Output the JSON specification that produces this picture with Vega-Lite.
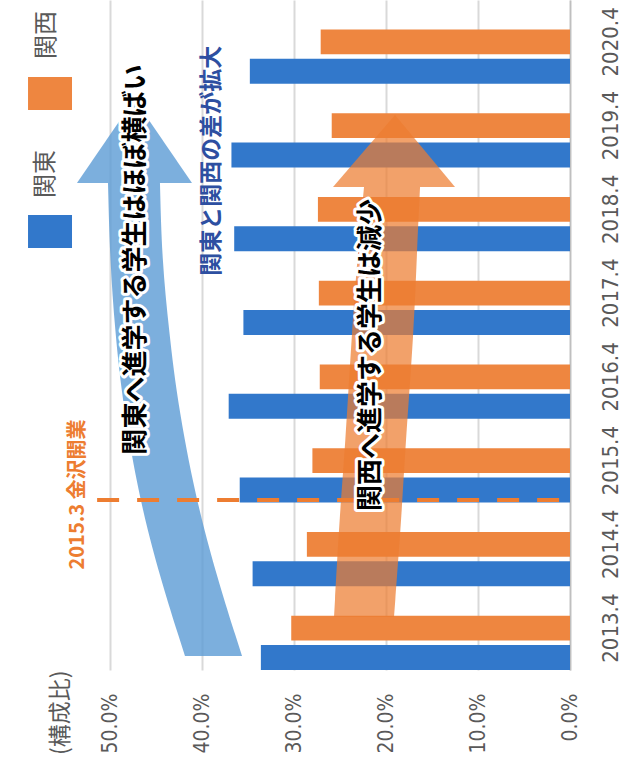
{
  "$schema": "https://vega.github.io/schema/vega-lite/v6.json",
  "width": 460,
  "height": 670,
  "autosize": {"type": "none"},
  "padding": {"left": 110, "top": 0, "right": 54, "bottom": 95},
  "background": "white",
  "config": {
    "view": {"stroke": null},
    "axisX": {
      "grid": true, "gridColor": "#D9D9D9", "gridWidth": 2, "domain": false, "ticks": false,
      "labelAngle": -90, "labelAlign": "right", "labelBaseline": "middle",
      "labelFont": "Liberation Sans Narrow, DejaVu Sans Condensed, sans-serif",
      "labelFontSize": 21, "labelColor": "#595959", "labelPadding": 23
    },
    "axisY": {
      "grid": false, "ticks": false, "domainColor": "#BFBFBF", "domainWidth": 1.5,
      "labelAngle": -90, "labelAlign": "center", "labelBaseline": "top",
      "labelFont": "Liberation Sans Narrow, DejaVu Sans Condensed, sans-serif",
      "labelFontSize": 22, "labelColor": "#595959", "labelPadding": 30
    }
  },
  "datasets": {
    "bars": [
      {"年度": "2013.4", "地域": "関東", "値": 0.336}, {"年度": "2013.4", "地域": "関西", "値": 0.303},
      {"年度": "2014.4", "地域": "関東", "値": 0.345}, {"年度": "2014.4", "地域": "関西", "値": 0.286},
      {"年度": "2015.4", "地域": "関東", "値": 0.359}, {"年度": "2015.4", "地域": "関西", "値": 0.280},
      {"年度": "2016.4", "地域": "関東", "値": 0.371}, {"年度": "2016.4", "地域": "関西", "値": 0.272},
      {"年度": "2017.4", "地域": "関東", "値": 0.355}, {"年度": "2017.4", "地域": "関西", "値": 0.273},
      {"年度": "2018.4", "地域": "関東", "値": 0.365}, {"年度": "2018.4", "地域": "関西", "値": 0.274},
      {"年度": "2019.4", "地域": "関東", "値": 0.368}, {"年度": "2019.4", "地域": "関西", "値": 0.259},
      {"年度": "2020.4", "地域": "関東", "値": 0.348}, {"年度": "2020.4", "地域": "関西", "値": 0.271}
    ],
    "blueShaft": [
      {"pos": 2013.067, "x": 0.4185, "x2": 0.3565},
      {"pos": 2014.572, "x": 0.4620, "x2": 0.4000},
      {"pos": 2016.040, "x": 0.4859, "x2": 0.4261},
      {"pos": 2016.960, "x": 0.4946, "x2": 0.4359},
      {"pos": 2017.796, "x": 0.5000, "x2": 0.4435},
      {"pos": 2018.715, "x": 0.5022, "x2": 0.4457}
    ],
    "blueHead": [
      {"pos": 2018.715, "x": 0.5359, "x2": 0.4109},
      {"pos": 2019.718, "x": 0.4734, "x2": 0.4734}
    ],
    "orangeShaft": [
      {"pos": 2013.533, "x": 0.2565, "x2": 0.1913},
      {"pos": 2014.810, "x": 0.2500, "x2": 0.1826},
      {"pos": 2015.527, "x": 0.2446, "x2": 0.1793},
      {"pos": 2016.960, "x": 0.2370, "x2": 0.1696},
      {"pos": 2017.915, "x": 0.2304, "x2": 0.1663},
      {"pos": 2018.667, "x": 0.2239, "x2": 0.1630}
    ],
    "orangeHead": [
      {"pos": 2018.667, "x": 0.2576, "x2": 0.1250},
      {"pos": 2019.527, "x": 0.1902, "x2": 0.1902}
    ],
    "blackNotes": [
      {"label": "関東へ進学する学生はほぼ横ばい", "x": 0.4717, "pos": 2017.80},
      {"label": "関西へ進学する学生は減少", "x": 0.2163, "pos": 2016.66}
    ],
    "blueNote": [{"label": "関東と関西の差が拡大", "x": 0.389, "pos": 2018.98}],
    "orangeNote": [{"label": "2015.3 金沢開業", "x": 0.535, "pos": 2014.996}],
    "openLine": [{"x": 0.514, "x2": 0, "pos": 2014.93}],
    "legendRects": [
      {"地域": "関東", "x": 0.5891, "x2": 0.5413, "pos": 2017.939, "pos2": 2018.333},
      {"地域": "関西", "x": 0.5891, "x2": 0.5413, "pos": 2019.587, "pos2": 2019.981}
    ],
    "legendTexts": [
      {"label": "関東", "x": 0.5696, "pos": 2018.822},
      {"label": "関西", "x": 0.5685, "pos": 2020.482}
    ],
    "unitTitle": [{"label": "(構成比)", "x": 0.5533, "pos": 2011.885}]
  },
  "layer": [
    {
      "data": {"name": "bars"},
      "mark": {"type": "bar"},
      "encoding": {
        "y": {"field": "年度", "type": "ordinal", "sort": "descending", "title": null,
              "scale": {"paddingInner": 0, "paddingOuter": 0}, "axis": {"orient": "right"}},
        "yOffset": {"field": "地域", "type": "nominal",
                    "scale": {"domain": ["", "関西", "関東"], "paddingInner": 0.15, "paddingOuter": 0}},
        "x": {"field": "値", "type": "quantitative", "title": null,
              "scale": {"domain": [0, 0.5], "reverse": true, "nice": false},
              "axis": {"values": [0, 0.1, 0.2, 0.3, 0.4, 0.5], "format": ".1%"}},
        "color": {"field": "地域", "type": "nominal",
                  "scale": {"domain": ["関東", "関西"], "range": ["#3278CB", "#EE8640"]}, "legend": null}
      }
    },
    {
      "layer": [
        {
          "data": {"name": "blueShaft"},
          "mark": {"type": "area", "orient": "horizontal", "interpolate": "basis", "color": "#5B9BD5", "opacity": 0.8},
          "encoding": {
            "y": {"field": "pos", "type": "quantitative", "scale": {"domain": [2012.9, 2020.9], "nice": false, "zero": false}, "axis": null},
            "x": {"field": "x", "type": "quantitative", "title": null, "scale": {"domain": [0, 0.5], "reverse": true, "nice": false}, "axis": {"values": [0, 0.1, 0.2, 0.3, 0.4, 0.5], "format": ".1%"}},
            "x2": {"field": "x2"}
          }
        },
        {
          "data": {"name": "blueHead"},
          "mark": {"type": "area", "orient": "horizontal", "color": "#5B9BD5", "opacity": 0.8},
          "encoding": {
            "y": {"field": "pos", "type": "quantitative", "scale": {"domain": [2012.9, 2020.9], "nice": false, "zero": false}, "axis": null},
            "x": {"field": "x", "type": "quantitative", "title": null, "scale": {"domain": [0, 0.5], "reverse": true, "nice": false}, "axis": {"values": [0, 0.1, 0.2, 0.3, 0.4, 0.5], "format": ".1%"}},
            "x2": {"field": "x2"}
          }
        },
        {
          "data": {"name": "orangeShaft"},
          "mark": {"type": "area", "orient": "horizontal", "interpolate": "basis", "color": "#ED7D31", "opacity": 0.72},
          "encoding": {
            "y": {"field": "pos", "type": "quantitative", "scale": {"domain": [2012.9, 2020.9], "nice": false, "zero": false}, "axis": null},
            "x": {"field": "x", "type": "quantitative", "title": null, "scale": {"domain": [0, 0.5], "reverse": true, "nice": false}, "axis": {"values": [0, 0.1, 0.2, 0.3, 0.4, 0.5], "format": ".1%"}},
            "x2": {"field": "x2"}
          }
        },
        {
          "data": {"name": "orangeHead"},
          "mark": {"type": "area", "orient": "horizontal", "color": "#ED7D31", "opacity": 0.72},
          "encoding": {
            "y": {"field": "pos", "type": "quantitative", "scale": {"domain": [2012.9, 2020.9], "nice": false, "zero": false}, "axis": null},
            "x": {"field": "x", "type": "quantitative", "title": null, "scale": {"domain": [0, 0.5], "reverse": true, "nice": false}, "axis": {"values": [0, 0.1, 0.2, 0.3, 0.4, 0.5], "format": ".1%"}},
            "x2": {"field": "x2"}
          }
        },
        {
          "data": {"name": "openLine"},
          "mark": {"type": "rule", "color": "#ED7D31", "strokeWidth": 4, "strokeDash": [22, 18]},
          "encoding": {
            "y": {"field": "pos", "type": "quantitative", "scale": {"domain": [2012.9, 2020.9], "nice": false, "zero": false}, "axis": null},
            "x": {"field": "x", "type": "quantitative", "title": null, "scale": {"domain": [0, 0.5], "reverse": true, "nice": false}, "axis": {"values": [0, 0.1, 0.2, 0.3, 0.4, 0.5], "format": ".1%"}},
            "x2": {"field": "x2"}
          }
        },
        {
          "data": {"name": "blackNotes"},
          "mark": {"type": "text", "angle": -90, "align": "center", "baseline": "middle", "font": "Noto Sans CJK JP", "fontWeight": "bold", "fontSize": 26, "color": "white", "stroke": "white", "strokeWidth": 6, "strokeJoin": "round"},
          "encoding": {
            "y": {"field": "pos", "type": "quantitative", "scale": {"domain": [2012.9, 2020.9], "nice": false, "zero": false}, "axis": null},
            "x": {"field": "x", "type": "quantitative", "title": null, "scale": {"domain": [0, 0.5], "reverse": true, "nice": false}, "axis": {"values": [0, 0.1, 0.2, 0.3, 0.4, 0.5], "format": ".1%"}},
            "text": {"field": "label"}
          }
        },
        {
          "data": {"name": "blackNotes"},
          "mark": {"type": "text", "angle": -90, "align": "center", "baseline": "middle", "font": "Noto Sans CJK JP", "fontWeight": "bold", "fontSize": 26, "color": "black"},
          "encoding": {
            "y": {"field": "pos", "type": "quantitative", "scale": {"domain": [2012.9, 2020.9], "nice": false, "zero": false}, "axis": null},
            "x": {"field": "x", "type": "quantitative", "title": null, "scale": {"domain": [0, 0.5], "reverse": true, "nice": false}, "axis": {"values": [0, 0.1, 0.2, 0.3, 0.4, 0.5], "format": ".1%"}},
            "text": {"field": "label"}
          }
        },
        {
          "data": {"name": "blueNote"},
          "mark": {"type": "text", "angle": -90, "align": "center", "baseline": "middle", "font": "Noto Sans CJK JP", "fontWeight": "bold", "fontSize": 23, "color": "#2D4FA1"},
          "encoding": {
            "y": {"field": "pos", "type": "quantitative", "scale": {"domain": [2012.9, 2020.9], "nice": false, "zero": false}, "axis": null},
            "x": {"field": "x", "type": "quantitative", "title": null, "scale": {"domain": [0, 0.5], "reverse": true, "nice": false}, "axis": {"values": [0, 0.1, 0.2, 0.3, 0.4, 0.5], "format": ".1%"}},
            "text": {"field": "label"}
          }
        },
        {
          "data": {"name": "orangeNote"},
          "mark": {"type": "text", "angle": -90, "align": "center", "baseline": "middle", "font": "Noto Sans CJK JP", "fontWeight": "bold", "fontSize": 20, "color": "#ED7D31"},
          "encoding": {
            "y": {"field": "pos", "type": "quantitative", "scale": {"domain": [2012.9, 2020.9], "nice": false, "zero": false}, "axis": null},
            "x": {"field": "x", "type": "quantitative", "title": null, "scale": {"domain": [0, 0.5], "reverse": true, "nice": false}, "axis": {"values": [0, 0.1, 0.2, 0.3, 0.4, 0.5], "format": ".1%"}},
            "text": {"field": "label"}
          }
        },
        {
          "data": {"name": "legendRects"},
          "mark": {"type": "rect"},
          "encoding": {
            "y": {"field": "pos", "type": "quantitative", "scale": {"domain": [2012.9, 2020.9], "nice": false, "zero": false}, "axis": null},
            "y2": {"field": "pos2"},
            "x": {"field": "x", "type": "quantitative", "title": null, "scale": {"domain": [0, 0.5], "reverse": true, "nice": false}, "axis": {"values": [0, 0.1, 0.2, 0.3, 0.4, 0.5], "format": ".1%"}},
            "x2": {"field": "x2"},
            "color": {"field": "地域", "type": "nominal", "scale": {"domain": ["関東", "関西"], "range": ["#3278CB", "#EE8640"]}, "legend": null}
          }
        },
        {
          "data": {"name": "legendTexts"},
          "mark": {"type": "text", "angle": -90, "align": "center", "baseline": "middle", "font": "Noto Sans CJK JP", "fontSize": 24, "color": "#595959"},
          "encoding": {
            "y": {"field": "pos", "type": "quantitative", "scale": {"domain": [2012.9, 2020.9], "nice": false, "zero": false}, "axis": null},
            "x": {"field": "x", "type": "quantitative", "title": null, "scale": {"domain": [0, 0.5], "reverse": true, "nice": false}, "axis": {"values": [0, 0.1, 0.2, 0.3, 0.4, 0.5], "format": ".1%"}},
            "text": {"field": "label"}
          }
        },
        {
          "data": {"name": "unitTitle"},
          "mark": {"type": "text", "angle": -90, "align": "left", "baseline": "middle", "font": "Noto Sans CJK JP", "fontSize": 23, "color": "#595959"},
          "encoding": {
            "y": {"field": "pos", "type": "quantitative", "scale": {"domain": [2012.9, 2020.9], "nice": false, "zero": false}, "axis": null},
            "x": {"field": "x", "type": "quantitative", "title": null, "scale": {"domain": [0, 0.5], "reverse": true, "nice": false}, "axis": {"values": [0, 0.1, 0.2, 0.3, 0.4, 0.5], "format": ".1%"}},
            "text": {"field": "label"}
          }
        }
      ]
    }
  ],
  "resolve": {"scale": {"y": "independent"}, "axis": {"y": "independent"}}
}
